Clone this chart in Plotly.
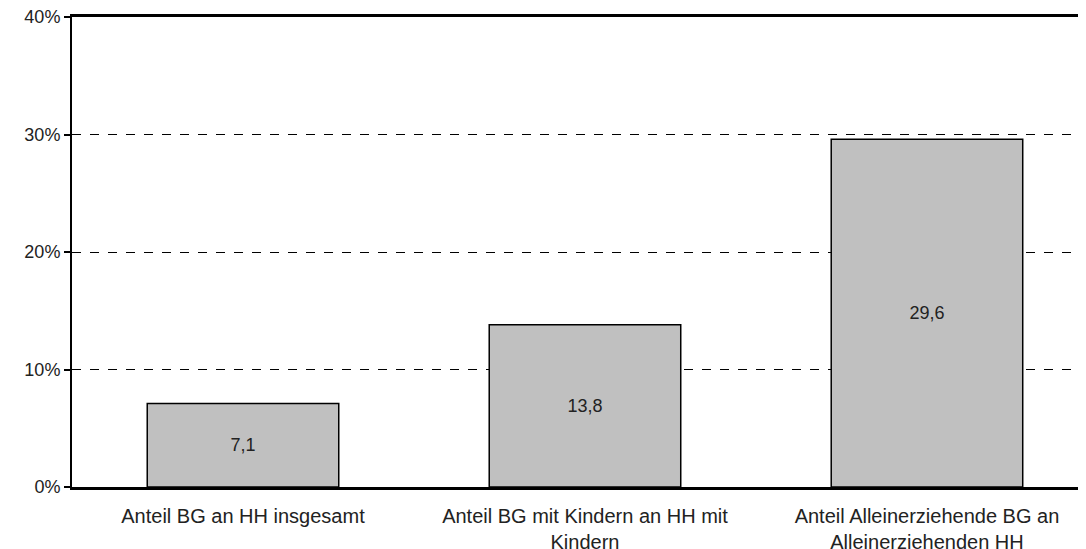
import plotly.graph_objects as go

categories = [
    "Anteil BG an HH insgesamt",
    "Anteil BG mit Kindern an HH mit<br>Kindern",
    "Anteil Alleinerziehende BG an<br>Alleinerziehenden HH",
]
values = [7.1, 13.8, 29.6]
y_ticks = [0, 10, 20, 30, 40]
y_tick_labels = ["0%", "10%", "20%", "30%", "40%"]
title_text = "Anteil der BG an allen HH im jeweiligen Haushaltstyp, in %, 2011"

fig = go.Figure()
fig.add_trace(go.Bar(
    x=list(range(len(categories))),
    y=values,
    width=0.56,
    marker=dict(color="#C0C0C0", line=dict(color="#000000", width=1.5)),
    text=[f"{v:.1f}".replace(".", ",") for v in values],
    textposition="inside",
    insidetextanchor="middle",
    textfont=dict(family="Liberation Sans, Arial", size=18, color="#222222"),
    showlegend=False,
))

fig.add_annotation(
    text=title_text, xref="paper", yref="paper", x=0.47, y=1,
    xanchor="center", yanchor="bottom", yshift=10, showarrow=False,
    font=dict(family="Liberation Sans, Arial", size=17, color="#000000"),
)

fig.update_layout(
    width=1078, height=541,
    margin=dict(l=64, r=0, t=9, b=62),
    paper_bgcolor="white", plot_bgcolor="white",
    xaxis=dict(
        range=[-0.5, 2.465],
        tickmode="array",
        tickvals=list(range(len(categories))),
        ticktext=categories,
        tickfont=dict(family="Liberation Sans, Arial", size=20, color="#222222"),
        showline=True, linecolor="#000000", linewidth=2.5,
        mirror=True,
        showgrid=False, ticks="", zeroline=False,
        automargin=False,
        ticklabeloverflow="allow",
        ticklabelstandoff=9,
    ),
    yaxis=dict(
        range=[0, 40],
        tickmode="array",
        tickvals=y_ticks,
        ticktext=y_tick_labels,
        tickfont=dict(family="Liberation Sans, Arial", size=18, color="#222222"),
        showline=True, linecolor="#000000", linewidth=2,
        ticks="outside", ticklen=6, tickcolor="#000000", tickwidth=2,
        showgrid=True, gridcolor="#000000", gridwidth=1, griddash="dash",
        zeroline=False,
        automargin=False,
        ticklabeloverflow="allow",
    ),
)

fig.write_html("out.html")
